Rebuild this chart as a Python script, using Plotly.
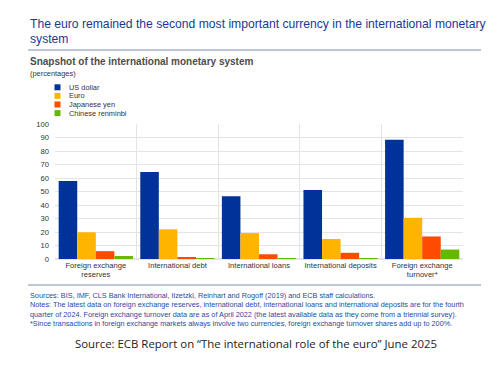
import plotly.graph_objects as go

categories = ["Foreign exchange<br>reserves", "International debt", "International loans",
              "International deposits", "Foreign exchange<br>turnover*"]
series_names = ["US dollar", "Euro", "Japanese yen", "Chinese renminbi"]
us_dollar = [57.8, 64.5, 46.5, 51.2, 88.4]
euro = [19.8, 22.0, 19.2, 14.8, 30.5]
japanese_yen = [5.8, 1.2, 3.5, 4.6, 16.7]
chinese_renminbi = [2.2, 0.6, 0.2, 0.2, 7.0]
y_ticks = [0, 10, 20, 30, 40, 50, 60, 70, 80, 90, 100]

colors = ["#003299", "#FFB400", "#FF4B00", "#65B800"]
values = [us_dollar, euro, japanese_yen, chinese_renminbi]

# page body has an 8px margin: figure is placed at (8, 8) in the window
OFF = 8
W, H = 485, 353
L, R, T, B = 55 - OFF, 463 - OFF, 124 - OFF, 259 - OFF


def px(xp):
    return (xp - OFF - L) / (R - L)


def py(yp):
    return (B - (yp - OFF)) / (B - T)


fig = go.Figure()
for name, vals, col in zip(series_names, values, colors):
    fig.add_trace(go.Bar(x=categories, y=vals, name=name, marker_color=col,
                         marker_line_width=0))

FONT = "Liberation Sans, Arial, sans-serif"
TXT = "#333333"

fig.update_layout(
    width=W, height=H,
    margin=dict(l=L, r=W - R, t=T, b=H - B, pad=0),
    paper_bgcolor="white", plot_bgcolor="white",
    barmode="group", bargap=0.09, bargroupgap=0,
    font=dict(family=FONT, size=7.6, color=TXT),
    showlegend=False,
    xaxis=dict(tickson="boundaries", showgrid=True, gridcolor="#e4e4e4", gridwidth=1,
               ticks="", showline=False, tickfont=dict(size=7.6, color=TXT),
               range=[-0.5, 4.5]),
    yaxis=dict(range=[0, 100], tickvals=y_ticks, showgrid=True, gridcolor="#e4e4e4",
               zeroline=True, zerolinecolor="#e4e4e4", ticks="", showline=False,
               tickfont=dict(size=7.6, color=TXT), ticklabelstandoff=5),
)

ann = []


def add_text(text, x, y, size, color, xanchor="left", family=FONT, bold=False, yanchor="middle"):
    if bold:
        text = "<b>" + text + "</b>"
    ann.append(dict(text=text, x=px(x), y=py(y), xanchor=xanchor, yanchor=yanchor,
                    align="left", xref="paper", yref="paper", showarrow=False, borderpad=0,
                    font=dict(size=size, color=color, family=family)))


add_text("The euro remained the second most important currency in the international monetary",
         29, 24, 12.15, "#1a3a8f")
add_text("system", 29, 38.5, 12.15, "#1a3a8f")
add_text("Snapshot of the international monetary system", 29, 61, 10.0, "#4d4d4d", bold=True)
add_text("(percentages)", 29, 73.5, 7.4, TXT)

notes = ["Sources: BIS, IMF, CLS Bank International, Ilzetzki, Reinhart and Rogoff (2019) and ECB staff calculations.",
         "Notes: The latest data on foreign exchange reserves, international debt, international loans and international deposits are for the fourth",
         "quarter of 2024. Foreign exchange turnover data are as of April 2022 (the latest available data as they come from a triennial survey).",
         "*Since transactions in foreign exchange markets always involve two currencies, foreign exchange turnover shares add up to 200%."]
add_text("<br>".join(notes), 29, 289.5, 7.3, "#2a4aa0", yanchor="top")

add_text("Source: ECB Report on “The international role of the euro” June 2025",
         256, 343, 11.4, "#222222", xanchor="center", family="Open Sans, sans-serif")

# legend
for i, (name, col) in enumerate(zip(series_names, colors)):
    yc = 87.3 + 8.6 * i
    fig.add_shape(type="rect", xref="paper", yref="paper", x0=px(54.5), x1=px(60.5),
                  y0=py(yc - 3), y1=py(yc + 3), fillcolor=col, line_width=0)
    add_text(name, 67.5, yc, 7.4, TXT)

fig.update_layout(annotations=ann)

fig.add_shape(type="line", xref="paper", yref="paper", x0=px(28), x1=px(481),
              y0=py(50), y1=py(50), line=dict(color="#7f8faa", width=1))
fig.add_shape(type="line", xref="paper", yref="paper", x0=px(28), x1=px(481),
              y0=py(285), y1=py(285), line=dict(color="#7f8faa", width=1))

fig.write_html("out.html")
